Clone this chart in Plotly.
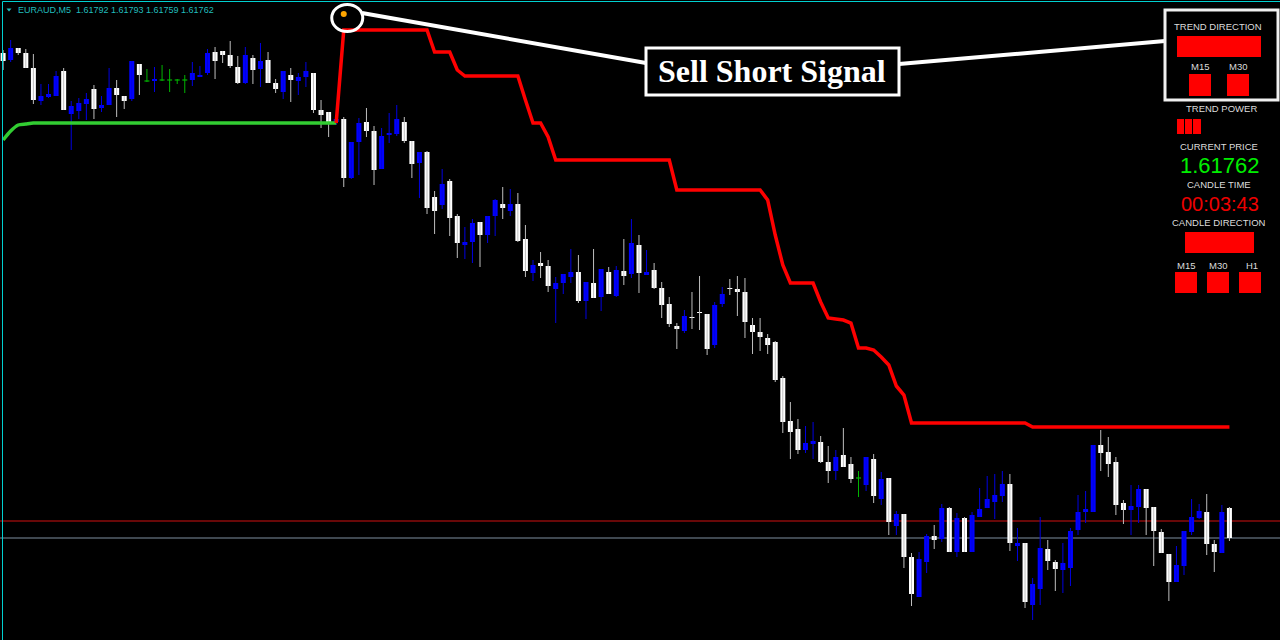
import plotly.graph_objects as go

# ---------------- data ----------------
symbol = "EURAUD,M5"
opens = [1.62247,1.62240,1.62252,1.62247,1.62232,1.62199,1.62203,1.62204,1.62229,1.62186,
         1.62189,1.62196,1.62211,1.62192,1.62195,1.62212,1.62204,1.62201,1.62236,1.62219,
         1.62219,1.62220,1.62220,1.62220,1.62220,1.62220,1.62223,1.62227,1.62248,1.62249,
         1.62245,1.62233,1.62217,1.62242,1.62231,1.62240,1.62217,1.62208,1.62225,1.62219,
         1.62223,1.62227,1.62190,1.62188,1.62178,1.62181,1.62122,1.62158,1.62178,1.62169,
         1.62131,1.62165,1.62166,1.62178,1.62159,1.62137,1.62148,1.62103,1.62095,1.62119,
         1.62084,1.62055,1.62058,1.62078,1.62065,1.62084,1.62096,1.62089,1.62096,1.62061,
         1.62027,1.62037,1.62034,1.62011,1.62017,1.62023,1.62028,1.61999,1.62017,1.62003,
         1.62028,1.62004,1.62029,1.62026,1.62055,1.62025,1.62030,1.62012,1.61996,1.61974,
         1.61969,1.61983,1.61988,1.61986,1.61955,1.61996,1.62012,1.62011,1.62008,1.61975,
         1.61968,1.61962,1.61958,1.61922,1.61879,1.61871,1.61850,1.61856,1.61858,1.61838,
         1.61829,1.61845,1.61836,1.61822,1.61815,1.61841,1.61801,1.61822,1.61774,1.61786,
         1.61743,1.61703,1.61738,1.61764,1.61761,1.61792,1.61748,1.61782,1.61748,1.61783,
         1.61792,1.61798,1.61804,1.61816,1.61754,1.61757,1.61695,1.61711,1.61751,1.61738,
         1.61730,1.61732,1.61770,1.61788,1.61788,1.61855,1.61848,1.61838,1.61797,1.61790,
         1.61793,1.61811,1.61793,1.61768,1.61746,1.61718,1.61734,1.61768,1.61782,1.61788,
         1.61756,1.61747,1.61792]
highs = [1.62250,1.62260,1.62252,1.62251,1.62246,1.62216,1.62216,1.62229,1.62232,1.62199,
         1.62202,1.62207,1.62215,1.62204,1.62232,1.62220,1.62204,1.62239,1.62236,1.62231,
         1.62233,1.62235,1.62231,1.62221,1.62225,1.62238,1.62234,1.62251,1.62253,1.62249,
         1.62259,1.62244,1.62253,1.62245,1.62257,1.62248,1.62221,1.62229,1.62232,1.62227,
         1.62238,1.62227,1.62200,1.62188,1.62185,1.62183,1.62158,1.62182,1.62192,1.62174,
         1.62172,1.62187,1.62195,1.62183,1.62159,1.62148,1.62149,1.62109,1.62131,1.62121,
         1.62086,1.62073,1.62081,1.62078,1.62084,1.62101,1.62113,1.62111,1.62107,1.62075,
         1.62040,1.62048,1.62040,1.62023,1.62026,1.62051,1.62045,1.62018,1.62051,1.62031,
         1.62033,1.62034,1.62061,1.62081,1.62065,1.62050,1.62037,1.62018,1.62003,1.61977,
         1.61990,1.62008,1.62024,1.61986,1.61998,1.62013,1.62021,1.62024,1.62022,1.61982,
         1.61982,1.61966,1.61959,1.61924,1.61898,1.61881,1.61874,1.61878,1.61864,1.61854,
         1.61850,1.61872,1.61843,1.61829,1.61843,1.61846,1.61828,1.61822,1.61789,1.61786,
         1.61747,1.61748,1.61766,1.61775,1.61796,1.61793,1.61787,1.61783,1.61788,1.61812,
         1.61824,1.61826,1.61829,1.61826,1.61772,1.61757,1.61722,1.61783,1.61760,1.61740,
         1.61757,1.61772,1.61805,1.61809,1.61855,1.61870,1.61863,1.61843,1.61800,1.61815,
         1.61815,1.61811,1.61793,1.61771,1.61746,1.61754,1.61769,1.61801,1.61796,1.61806,
         1.61760,1.61795,1.61793]
lows = [1.62230,1.62238,1.62245,1.62232,1.62196,1.62195,1.62202,1.62204,1.62190,1.62150,
        1.62181,1.62180,1.62181,1.62188,1.62195,1.62183,1.62191,1.62199,1.62205,1.62218,
        1.62208,1.62219,1.62208,1.62216,1.62207,1.62214,1.62223,1.62225,1.62221,1.62237,
        1.62232,1.62216,1.62216,1.62216,1.62213,1.62217,1.62207,1.62201,1.62198,1.62205,
        1.62213,1.62187,1.62172,1.62163,1.62175,1.62113,1.62121,1.62125,1.62163,1.62115,
        1.62131,1.62157,1.62164,1.62157,1.62122,1.62102,1.62086,1.62066,1.62091,1.62064,
        1.62042,1.62041,1.62037,1.62033,1.62057,1.62064,1.62081,1.62084,1.62058,1.62023,
        1.62019,1.62022,1.62008,1.61977,1.62006,1.62017,1.61997,1.61981,1.62002,1.61989,
        1.62006,1.62003,1.62015,1.62022,1.62007,1.62025,1.62011,1.61982,1.61973,1.61951,
        1.61967,1.61971,1.61970,1.61945,1.61952,1.61993,1.62005,1.61984,1.61962,1.61946,
        1.61949,1.61946,1.61918,1.61867,1.61841,1.61846,1.61847,1.61841,1.61837,1.61817,
        1.61820,1.61833,1.61817,1.61803,1.61809,1.61797,1.61795,1.61765,1.61765,1.61732,
        1.61694,1.61703,1.61727,1.61751,1.61758,1.61748,1.61743,1.61748,1.61748,1.61783,
        1.61792,1.61781,1.61798,1.61749,1.61739,1.61692,1.61680,1.61695,1.61730,1.61709,
        1.61707,1.61714,1.61765,1.61777,1.61788,1.61829,1.61823,1.61785,1.61776,1.61765,
        1.61777,1.61765,1.61734,1.61747,1.61699,1.61718,1.61725,1.61765,1.61781,1.61745,
        1.61728,1.61747,1.61759]
closes = [1.62239,1.62252,1.62247,1.62232,1.62200,1.62204,1.62206,1.62224,1.62190,1.62194,
          1.62197,1.62201,1.62191,1.62195,1.62212,1.62205,1.62199,1.62239,1.62225,1.62219,
          1.62221,1.62220,1.62220,1.62220,1.62220,1.62227,1.62225,1.62247,1.62239,1.62245,
          1.62234,1.62217,1.62245,1.62230,1.62239,1.62217,1.62211,1.62229,1.62220,1.62223,
          1.62229,1.62190,1.62185,1.62178,1.62181,1.62122,1.62158,1.62177,1.62169,1.62130,
          1.62164,1.62167,1.62181,1.62159,1.62136,1.62148,1.62092,1.62089,1.62116,1.62082,
          1.62057,1.62058,1.62077,1.62065,1.62084,1.62100,1.62092,1.62096,1.62059,1.62029,
          1.62035,1.62034,1.62014,1.62017,1.62026,1.62028,1.61999,1.62018,1.62002,1.62031,
          1.62006,1.62030,1.62024,1.62057,1.62027,1.62028,1.62012,1.61995,1.61976,1.61971,
          1.61984,1.61982,1.61987,1.61951,1.61995,1.62006,1.62011,1.62008,1.61978,1.61968,
          1.61963,1.61955,1.61920,1.61878,1.61868,1.61850,1.61857,1.61859,1.61838,1.61829,
          1.61843,1.61833,1.61821,1.61822,1.61843,1.61804,1.61821,1.61778,1.61786,1.61743,
          1.61706,1.61741,1.61764,1.61760,1.61792,1.61748,1.61782,1.61748,1.61785,1.61791,
          1.61801,1.61805,1.61816,1.61757,1.61757,1.61698,1.61716,1.61752,1.61739,1.61731,
          1.61737,1.61769,1.61788,1.61791,1.61855,1.61847,1.61836,1.61795,1.61790,1.61794,
          1.61811,1.61792,1.61769,1.61747,1.61718,1.61735,1.61769,1.61783,1.61789,1.61756,
          1.61748,1.61788,1.61762]

green_start = 0
green_line = [1.62160,1.62169,1.62175,1.62176,1.62177,1.62177,1.62177,1.62177,1.62177,1.62177,
              1.62177,1.62177,1.62177,1.62177,1.62177,1.62177,1.62177,1.62177,1.62177,1.62177,
              1.62177,1.62177,1.62177,1.62177,1.62177,1.62177,1.62177,1.62177,1.62177,1.62177,
              1.62177,1.62177,1.62177,1.62177,1.62177,1.62177,1.62177,1.62177,1.62177,1.62177,
              1.62177,1.62177,1.62177,1.62177,1.62177]
red_start = 44
red_line = [1.62177,
            1.62270,1.62270,1.62270,1.62270,1.62270,1.62270,1.62270,1.62270,1.62270,1.62270,1.62270,1.62270,
            1.62248,1.62248,1.62248,1.62230,
            1.62224,1.62224,1.62224,1.62224,1.62224,1.62224,1.62224,1.62224,
            1.62200,1.62177,1.62177,1.62163,
            1.62140,1.62140,1.62140,1.62140,1.62140,1.62140,1.62140,1.62140,
            1.62140,1.62140,1.62140,1.62140,1.62140,1.62140,1.62140,1.62140,
            1.62110,1.62110,1.62110,1.62110,1.62110,1.62110,1.62110,1.62110,1.62110,1.62110,1.62110,1.62110,
            1.62100,1.62065,1.62035,1.62017,1.62017,1.62017,1.62017,1.61998,
            1.61982,1.61981,1.61980,1.61977,1.61952,1.61952,1.61950,1.61943,1.61935,1.61914,1.61905,
            1.61877,1.61877,1.61877,1.61877,1.61877,1.61877,1.61877,1.61877,
            1.61877,1.61877,1.61877,1.61877,1.61877,1.61877,1.61877,1.61877,
            1.61873,1.61873,1.61873,1.61873,1.61873,1.61873,1.61873,1.61873,1.61873,
            1.61873,1.61873,1.61873,1.61873,1.61873,1.61873,1.61873,1.61873,1.61873,
            1.61873,1.61873,1.61873,1.61873,1.61873,1.61873,1.61873,1.61873,1.61873]
signal_index = 45
signal_price = 1.62286
ask_price = 1.61779
candle_time = "00:03:43"
panel_labels = ["TREND DIRECTION", "TREND POWER", "CURRENT PRICE", "CANDLE TIME", "CANDLE DIRECTION"]
tf_top = ["M15", "M30"]
tf_bottom = ["M15", "M30", "H1"]

# ---------------- styling ----------------
W, H = 1280, 640
BULL = "#0000FF"
BULL_WICK = "#0000E0"
BEAR = "#FFFFFF"
BEAR_WICK = "#BEBEBE"
DOJI = "#00B400"
X_RANGE = [-0.41, 168.68]
Y_RANGE = [1.61660, 1.62300]


def px(x):
    return x / W


def py(y):
    return 1 - y / H


fig = go.Figure()

groups = {"bull": ([], [], [], [], []), "bear": ([], [], [], [], []), "doji": ([], [], [], [], [])}
for i, (o, h, l, c) in enumerate(zip(opens, highs, lows, closes)):
    if c > o:
        g = groups["bull"]
    elif c < o:
        g = groups["bear"]
    else:
        g = groups["doji"]
    xs, bases, hts, wx, wy = g
    if c == o:
        bases.append(o - 0.000006)
        hts.append(0.000012)
    else:
        bases.append(min(o, c))
        hts.append(max(abs(c - o), 0.00001))
    xs.append(i)
    wx += [i, i, None]
    wy += [l, h, None]

for key, wcol in (("bear", BEAR_WICK), ("bull", BULL_WICK), ("doji", DOJI)):
    _, _, _, wx, wy = groups[key]
    fig.add_trace(go.Scatter(x=wx, y=wy, mode="lines", line=dict(color=wcol, width=1),
                             hoverinfo="skip", showlegend=False))
for key, col in (("bear", BEAR), ("bull", BULL), ("doji", DOJI)):
    xs, bases, hts, _, _ = groups[key]
    fig.add_trace(go.Bar(x=xs, y=hts, base=bases, width=0.66, marker=dict(color=col, line=dict(width=0)),
                         hoverinfo="skip", showlegend=False))

fig.add_trace(go.Scatter(x=list(range(green_start, green_start + len(green_line))), y=green_line,
                         mode="lines", line=dict(color="#32CD32", width=3.5, shape="spline", smoothing=0.6),
                         hoverinfo="skip", showlegend=False))
fig.add_trace(go.Scatter(x=list(range(red_start, red_start + len(red_line))), y=red_line,
                         mode="lines", line=dict(color="#FF0000", width=3.5),
                         hoverinfo="skip", showlegend=False))
fig.add_trace(go.Scatter(x=[signal_index], y=[signal_price], mode="markers",
                         marker=dict(color="#FFA500", size=6), hoverinfo="skip", showlegend=False))

shapes = []
# bid / ask lines
shapes.append(dict(type="line", xref="paper", x0=0, x1=1, yref="y", y0=ask_price, y1=ask_price,
                   line=dict(color="#D01010", width=1), layer="below"))
shapes.append(dict(type="line", xref="paper", x0=0, x1=1, yref="y", y0=closes[-1], y1=closes[-1],
                   line=dict(color="#7F8FA0", width=1), layer="below"))
# chart frame (cyan)
shapes.append(dict(type="line", xref="paper", yref="paper", x0=px(2.5), x1=1, y0=py(1.5), y1=py(1.5),
                   line=dict(color="#00D0D0", width=1)))
shapes.append(dict(type="line", xref="paper", yref="paper", x0=px(2.5), x1=px(2.5), y0=py(1.5), y1=0,
                   line=dict(color="#00D0D0", width=1)))
# header triangle
shapes.append(dict(type="path", xref="paper", yref="paper",
                   path=f"M {px(6.5)} {py(8.5)} L {px(11.5)} {py(8.5)} L {px(9)} {py(11.5)} Z",
                   fillcolor="#20BDBD", line=dict(width=0)))
# signal ellipse around the signal candle
shapes.append(dict(type="circle", xref="x", yref="y", xsizemode="pixel", ysizemode="pixel",
                   xanchor=signal_index, yanchor=signal_price, x0=-12, x1=19, y0=-17.5, y1=9.5,
                   line=dict(color="white", width=3)))
# callout lines
shapes.append(dict(type="line", xref="paper", yref="paper", x0=px(362), y0=py(13), x1=px(646), y1=py(63),
                   line=dict(color="white", width=4)))
shapes.append(dict(type="line", xref="paper", yref="paper", x0=px(899), y0=py(64), x1=px(1165), y1=py(41),
                   line=dict(color="white", width=4)))
# callout box
shapes.append(dict(type="rect", xref="paper", yref="paper", x0=px(646), x1=px(899), y0=py(48), y1=py(95),
                   fillcolor="black", line=dict(color="white", width=3)))
# panel box
shapes.append(dict(type="rect", xref="paper", yref="paper", x0=px(1165), x1=px(1278), y0=py(10), y1=py(100),
                   fillcolor="black", line=dict(color="#F0F0F0", width=3)))


def red_rect(x0, y0, x1, y1):
    shapes.append(dict(type="rect", xref="paper", yref="paper", x0=px(x0), x1=px(x1), y0=py(y0), y1=py(y1),
                       fillcolor="#FF0000", line=dict(width=0)))


red_rect(1177, 36, 1261, 57)
red_rect(1189, 74, 1211, 96)
red_rect(1227, 74, 1249, 96)
red_rect(1177, 119, 1184, 134)
red_rect(1185, 119, 1192, 134)
red_rect(1193, 119, 1201, 134)
red_rect(1185, 232, 1254, 253)
red_rect(1175, 272, 1197, 293)
red_rect(1207, 272, 1229, 293)
red_rect(1239, 272, 1261, 293)

annotations = []


def text(x, y, s, size, color, family="Liberation Sans", xanchor="center", bold=False):
    if bold:
        s = f"<b>{s}</b>"
    annotations.append(dict(xref="paper", yref="paper", x=px(x), y=py(y), text=s, showarrow=False,
                            xanchor=xanchor, yanchor="middle", font=dict(family=family, size=size, color=color)))


header = f"{symbol}  " + " ".join(f"{v:.5f}" for v in (opens[-1], highs[-1], lows[-1], closes[-1]))
text(16, 10, header, 9, "#20BDBD", xanchor="left")
text(772, 71, "Sell Short Signal", 32, "white", family="Liberation Serif", bold=True)

LBL = "#DCDCDC"
text(1218, 26, panel_labels[0], 9.5, LBL)
text(1200, 66, tf_top[0], 9.5, LBL)
text(1238, 66, tf_top[1], 9.5, LBL)
text(1221, 109, panel_labels[1], 9.5, LBL)
text(1218.5, 146, panel_labels[2], 9.5, LBL)
text(1220, 165.5, f"{closes[-1]:.5f}", 22, "#00EE00")
text(1218.5, 184.5, panel_labels[3], 9.5, LBL)
text(1220, 203.5, candle_time, 20, "#EE0000")
text(1218.5, 222, panel_labels[4], 9.5, LBL)
text(1185.5, 265, tf_bottom[0], 9.5, LBL)
text(1217.5, 265, tf_bottom[1], 9.5, LBL)
text(1252, 265, tf_bottom[2], 9.5, LBL)

fig.update_layout(
    width=W, height=H, margin=dict(l=0, r=0, t=0, b=0),
    paper_bgcolor="black", plot_bgcolor="black",
    barmode="overlay", showlegend=False, hovermode=False,
    xaxis=dict(range=X_RANGE, visible=False, fixedrange=True),
    yaxis=dict(range=Y_RANGE, visible=False, fixedrange=True),
    shapes=shapes, annotations=annotations,
)

fig.write_html("out.html", config={"displayModeBar": False, "staticPlot": True},
               post_script="document.body.style.margin='0';document.body.style.overflow='hidden';document.body.style.background='black';")
